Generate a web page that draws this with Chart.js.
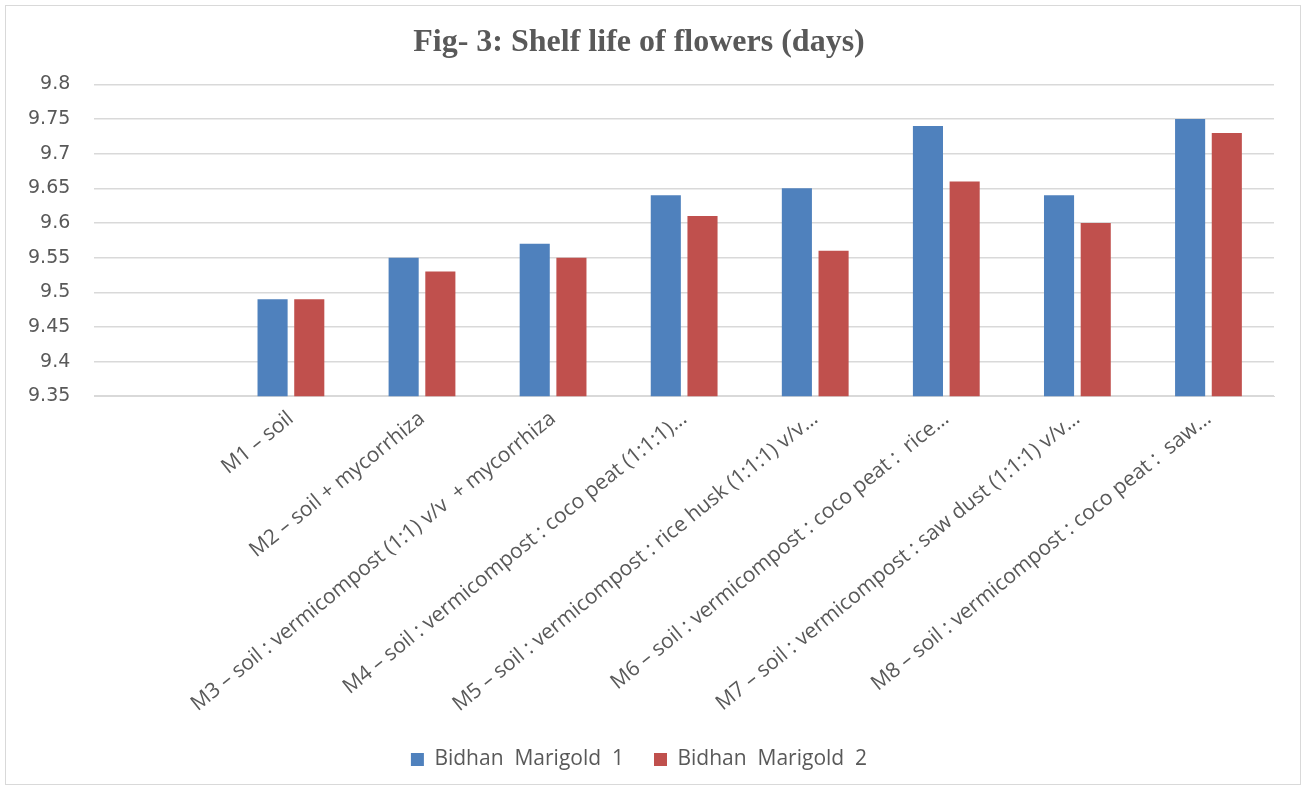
<!DOCTYPE html>
<html>
<head>
<meta charset="utf-8">
<script src="https://cdn.jsdelivr.net/npm/chart.js@4.4.1/dist/chart.umd.min.js"></script>
<style>
  html, body { margin: 0; padding: 0; background: #fff; }
  #wrap { position: relative; width: 1304px; height: 787px; }
  #frame { position: absolute; left: 5px; top: 5px; width: 1296px; height: 780px;
           border: 1px solid #d9d9d9; box-sizing: border-box; pointer-events: none; }
</style>
</head>
<body>
<div id="wrap">
  <canvas id="chart" width="1304" height="787"></canvas>
  <div id="frame"></div>
</div>
<script>
// first slot is empty in the original chart
const categories = [
  '',
  'M1 – soil',
  'M2 – soil + mycorrhiza',
  'M3 – soil : vermicompost (1:1) v/v  + mycorrhiza',
  'M4 – soil : vermicompost : coco peat (1:1:1)...',
  'M5 – soil : vermicompost : rice husk (1:1:1) v/v...',
  'M6 – soil : vermicompost : coco peat :  rice...',
  'M7 – soil : vermicompost : saw dust (1:1:1) v/v...',
  'M8 – soil : vermicompost : coco peat :  saw...'
];
const marigold1 = [null, 9.49, 9.55, 9.57, 9.64, 9.65, 9.74, 9.64, 9.75];
const marigold2 = [null, 9.49, 9.53, 9.55, 9.61, 9.56, 9.66, 9.60, 9.73];
const yTicks = [9.35, 9.4, 9.45, 9.5, 9.55, 9.6, 9.65, 9.7, 9.75, 9.8];

const textColor = '#595959';
const gridColor = '#d9d9d9';

new Chart(document.getElementById('chart'), {
  type: 'bar',
  data: {
    labels: categories,
    datasets: [
      { label: 'Bidhan  Marigold  1', data: marigold1, backgroundColor: '#4f81bd',
        categoryPercentage: 0.56, barPercentage: 0.82 },
      { label: 'Bidhan  Marigold  2', data: marigold2, backgroundColor: '#c0504d',
        categoryPercentage: 0.56, barPercentage: 0.82 }
    ]
  },
  options: {
    responsive: false,
    animation: false,
    layout: { padding: { top: 8, right: 30, bottom: 7, left: 4 } },
    plugins: {
      title: {
        display: true,
        text: 'Fig- 3: Shelf life of flowers (days)',
        color: textColor,
        font: { family: 'Liberation Serif', size: 32, weight: 'bold' },
        padding: { top: 16, bottom: 22 }
      },
      legend: {
        position: 'bottom',
        labels: {
          color: textColor,
          font: { family: 'Open Sans', size: 21 },
          boxWidth: 13, boxHeight: 13,
          padding: 30
        }
      },
      tooltip: { enabled: false }
    },
    scales: {
      x: {
        grid: { display: false },
        border: { display: true, color: gridColor },
        ticks: {
          color: textColor,
          font: { family: 'Open Sans', size: 21 },
          autoSkip: false,
          minRotation: 39, maxRotation: 39,
          padding: 2
        }
      },
      y: {
        min: 9.35, max: 9.8,
        afterBuildTicks: axis => { axis.ticks = yTicks.map(v => ({ value: v })); },
        grid: { color: gridColor, lineWidth: 1.5, drawTicks: false },
        border: { display: false },
        ticks: {
          color: textColor,
          font: { family: 'DejaVu Sans', size: 19 },
          padding: 24,
          callback: v => String(+v.toFixed(2))
        }
      }
    }
  }
});
</script>
</body>
</html>
